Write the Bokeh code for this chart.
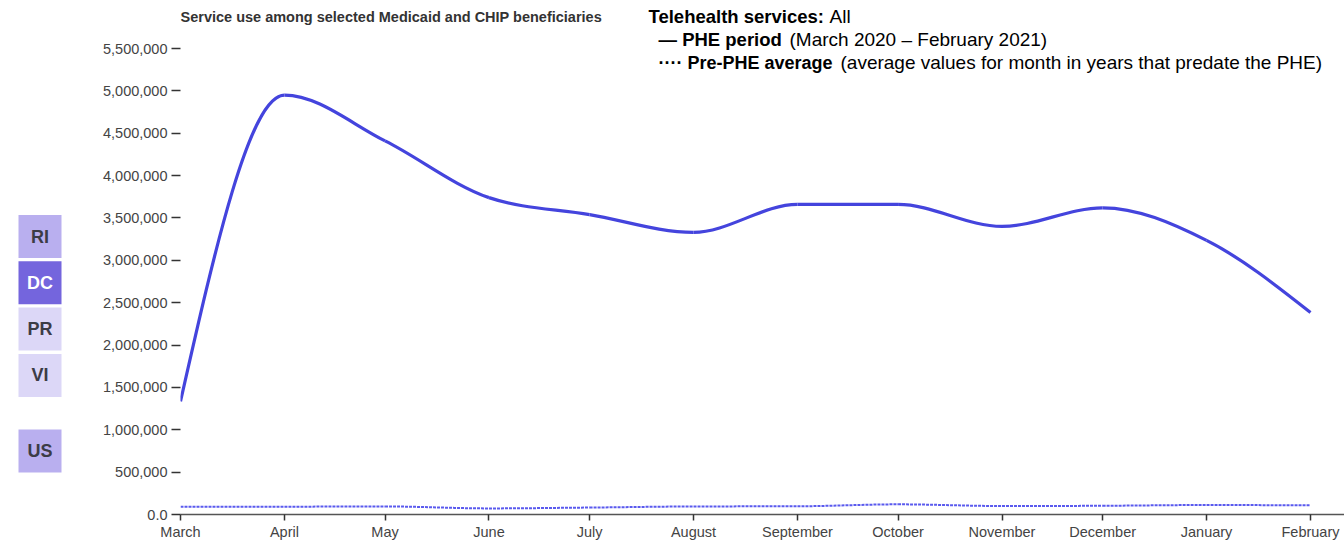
import numpy as np
from bokeh.plotting import figure
from bokeh.layouts import row
from bokeh.models import (ColumnDataSource, Range1d, FixedTicker, CustomJSTickFormatter, Label)
from bokeh.core.properties import value
from bokeh.embed import file_html
from bokeh.resources import INLINE

# ---------------- data ----------------
month_dates = ["2020-03-01", "2020-04-01", "2020-05-01", "2020-06-01", "2020-07-01", "2020-08-01",
               "2020-09-01", "2020-10-01", "2020-11-01", "2020-12-01", "2021-01-01", "2021-02-01"]
month_labels = ["March", "April", "May", "June", "July", "August",
                "September", "October", "November", "December", "January", "February"]
phe_period = [1334000, 4950000, 4410000, 3740000, 3540000, 3330000,
              3660000, 3660000, 3400000, 3620000, 3235000, 2385000]
pre_phe_avg = [90000, 92000, 95000, 72000, 82000, 95000,
               97000, 120000, 100000, 103000, 112000, 108000]
y_ticks = [0, 500000, 1000000, 1500000, 2000000, 2500000, 3000000,
           3500000, 4000000, 4500000, 5000000, 5500000]
states = ["RI", "DC", "PR", "VI"]
state_colors = ["#b9afef", "#7465dd", "#dcd7f7", "#dcd7f7"]
state_text_colors = ["#3c3c46", "#ffffff", "#3c3c46", "#3c3c46"]
us_label = "US"
us_color = "#b9afef"

FONT = "Liberation Sans"
LINE_COLOR = "#4444dd"

x_ms = np.array(month_dates, dtype="datetime64[ms]").astype("int64").astype(float)


def monotone_beziers(x, y):
    """Cubic bezier segments of a monotone-x curve through the data points."""
    x = np.asarray(x, float)
    y = np.asarray(y, float)
    n = len(x)
    t = np.zeros(n)
    sgn = lambda v: -1.0 if v < 0 else 1.0
    for i in range(1, n - 1):
        h0 = x[i] - x[i - 1]
        h1 = x[i + 1] - x[i]
        s0 = (y[i] - y[i - 1]) / h0
        s1 = (y[i + 1] - y[i]) / h1
        p = (s0 * h1 + s1 * h0) / (h0 + h1)
        t[i] = (sgn(s0) + sgn(s1)) * min(abs(s0), abs(s1), 0.5 * abs(p))
    t[0] = (3 * (y[1] - y[0]) / (x[1] - x[0]) - t[1]) / 2
    t[-1] = (3 * (y[-1] - y[-2]) / (x[-1] - x[-2]) - t[-2]) / 2
    dx = (x[1:] - x[:-1]) / 3
    return dict(x0=x[:-1], y0=y[:-1], x1=x[1:], y1=y[1:],
                cx0=x[:-1] + dx, cy0=y[:-1] + dx * t[:-1],
                cx1=x[1:] - dx, cy1=y[1:] - dx * t[1:])


# ---------------- layout sizes (page pixels, origin top-left) ----------------
TOTAL_H = 542
LEFT_W = 96
MAIN_W = 1248
FRAME_LEFT = 180
TOP_TICK_Y = 48          # page y of the highest y tick
FRAME_BOTTOM = 514
BORDER_L = FRAME_LEFT - LEFT_W
BORDER_B = TOTAL_H - FRAME_BOTTOM
frame_w = MAIN_W - BORDER_L

# ---------------- left button panel ----------------
left = figure(width=LEFT_W, height=TOTAL_H, output_backend="svg", toolbar_location=None,
              x_range=Range1d(0, LEFT_W), y_range=Range1d(FRAME_BOTTOM, 0),
              min_border=0, min_border_bottom=BORDER_B,
              outline_line_color=None)
left.axis.visible = False
left.grid.visible = False
btn_w, btn_h, step = 43, 43, 46.3
btn_x = [39.5] * len(states) + [39.5]
btn_y = [236 + i * step for i in range(len(states))] + [450.5]
btn_src = ColumnDataSource(dict(x=btn_x, y=btn_y, label=states + [us_label],
                                color=state_colors + [us_color],
                                tcolor=state_text_colors + ["#3c3c46"]))
left.rect(x="x", y="y", width=btn_w, height=btn_h, source=btn_src,
          fill_color="color", line_color=None)
left.text(x="x", y="y", text="label", source=btn_src, text_color="tcolor",
          text_align="center", text_baseline="middle", text_font_size="18px",
          text_font_style="bold", text_font=value(FONT))

# ---------------- main chart ----------------
x_start = x_ms[0]
px_per_ms = 1130.0 / (x_ms[-1] - x_ms[0])
x_end = x_start + frame_w / px_per_ms
y_end = y_ticks[-1] * FRAME_BOTTOM / (FRAME_BOTTOM - TOP_TICK_Y)

p = figure(width=MAIN_W, height=TOTAL_H, output_backend="svg", toolbar_location=None,
           x_axis_type="datetime",
           x_range=Range1d(x_start, x_end), y_range=Range1d(0, y_end),
           min_border_left=BORDER_L, min_border_right=0, min_border_top=0,
           min_border_bottom=BORDER_B, outline_line_color=None)
p.grid.visible = False

solid = monotone_beziers(x_ms, phe_period)
p.bezier(source=ColumnDataSource(solid), x0="x0", y0="y0", x1="x1", y1="y1",
         cx0="cx0", cy0="cy0", cx1="cx1", cy1="cy1",
         line_color=LINE_COLOR, line_width=3.2)
dashed = monotone_beziers(x_ms, pre_phe_avg)
p.bezier(source=ColumnDataSource(dashed), x0="x0", y0="y0", x1="x1", y1="y1",
         cx0="cx0", cy0="cy0", cx1="cx1", cy1="cy1",
         line_color="#5a5aee", line_width=2, line_dash="3 1")

# x axis
xa = p.xaxis[0]
xa.ticker = FixedTicker(ticks=list(x_ms))
xa.major_label_overrides = {float(v): lab for v, lab in zip(x_ms, month_labels)}
xa.axis_line_color = "#555555"
xa.axis_line_width = 1.5
xa.major_tick_out = 6
xa.major_tick_in = 0
xa.major_tick_line_color = "#333333"
xa.major_tick_line_width = 1.5
xa.minor_tick_line_color = None
xa.major_label_standoff = 3
xa.major_label_text_font = FONT
xa.major_label_text_font_size = "14.5px"
xa.major_label_text_color = "#444444"

# y axis
ya = p.yaxis[0]
ya.ticker = FixedTicker(ticks=y_ticks)
ya.formatter = CustomJSTickFormatter(
    code="return tick == 0 ? '0.0' : tick.toLocaleString('en-US');")
ya.axis_line_color = None
ya.major_tick_out = 9
ya.major_tick_in = 0
ya.major_tick_line_color = "#333333"
ya.major_tick_line_width = 1.5
ya.minor_tick_line_color = None
ya.major_label_standoff = 4
ya.major_label_text_font = FONT
ya.major_label_text_font_size = "14.5px"
ya.major_label_text_color = "#444444"


def add_label(text, page_x, page_y, size, bold, color="#000000"):
    # screen units are measured from the frame's bottom-left corner
    p.add_layout(Label(x=page_x - FRAME_LEFT, y=FRAME_BOTTOM - page_y,
                       x_units="screen", y_units="screen", text=text,
                       text_font=FONT, text_font_size=size,
                       text_font_style="bold" if bold else "normal",
                       text_color=color, text_align="left", text_baseline="middle"))


add_label("Service use among selected Medicaid and CHIP beneficiaries", 180, 16, "14.5px", True, "#333333")
add_label("Telehealth services:", 648, 16, "18.5px", True)
add_label("All", 829, 16, "19px", False)
add_label("\u2014 PHE period", 658, 39, "18.5px", True)
add_label("(March 2020 \u2013 February 2021)", 789, 39, "19px", False)
add_label("\u00b7\u00b7\u00b7\u00b7 Pre-PHE average", 658, 62, "18px", True)
add_label("(average values for month in years that predate the PHE)", 840, 62, "19px", False)

layout = row(left, p)
open("out.html", "w").write(file_html(layout, INLINE))
